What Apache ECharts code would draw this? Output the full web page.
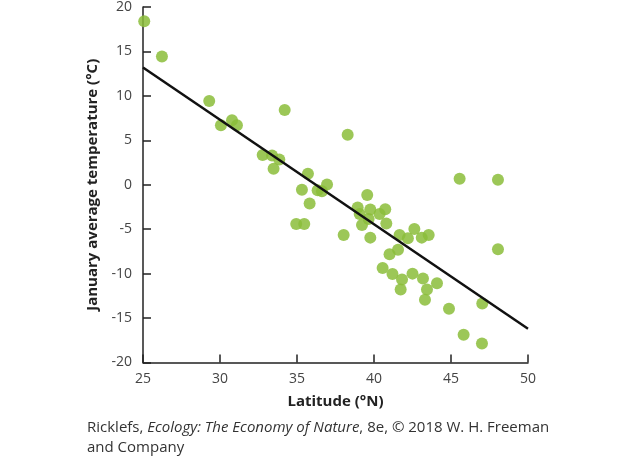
<!DOCTYPE html>
<html>
<head>
<meta charset="utf-8">
<script src="https://cdn.jsdelivr.net/npm/echarts@6/dist/echarts.min.js"></script>
<style>html,body{margin:0;padding:0;background:#fff}#c{width:629px;height:462px}</style>
</head>
<body>
<div id="c"></div>
<script>
const latitude = [25.08,26.23,29.3,30.06,30.78,31.1,34.2,32.77,33.38,33.85,33.48,35.71,
  38.29,35.32,36.95,36.34,36.62,35.82,34.95,35.47,38.03,39.56,
  38.94,39.76,40.73,39.07,40.36,39.65,39.22,40.8,39.76,
  41.66,42.2,42.62,43.1,43.55,
  41.56,41.01,40.56,41.2,42.5,41.82,43.18,44.09,41.73,43.44,43.31,44.87,47.03,45.82,47.01,
  45.56,48.05,48.05];
const temperature = [18.4,14.44,9.42,6.7,7.25,6.7,8.42,3.35,3.28,2.83,1.79,1.23,
  5.62,-0.56,0.04,-0.62,-0.74,-2.12,-4.42,-4.42,-5.65,-1.15,
  -2.57,-2.79,-2.75,-3.3,-3.3,-3.86,-4.53,-4.35,-5.95,
  -5.65,-6.03,-4.98,-5.95,-5.65,
  -7.32,-7.81,-9.37,-10.04,-10.0,-10.67,-10.56,-11.08,-11.79,-11.79,-12.95,-13.95,-13.35,-16.88,-17.86,
  0.67,0.56,-7.25];
const fitLatitude = [25, 50];
const fitTemperature = [13.2, -16.2];
const xTicks = [25, 30, 35, 40, 45, 50];
const yTicks = [-20, -15, -10, -5, 0, 5, 10, 15, 20];

const points = latitude.map((x, i) => [x, temperature[i]]);
const fit = fitLatitude.map((x, i) => [x, fitTemperature[i]]);

const chart = echarts.init(document.getElementById('c'), null, {renderer: 'canvas'});
const axisCol = '#222';
const lblFont = {fontFamily: 'Open Sans', fontSize: 14, color: '#444'};
chart.setOption({
  animation: false,
  backgroundColor: '#fff',
  grid: {left: 143, right: 101, top: 4, bottom: 99.5},
  xAxis: {
    type: 'value', min: xTicks[0], max: xTicks[xTicks.length-1], interval: 5,
    name: 'Latitude (°N)', nameLocation: 'middle', nameGap: 32,
    nameTextStyle: {fontFamily: 'Open Sans', fontWeight: 'bold', fontSize: 15, color: '#222'},
    axisLine: {onZero: false, lineStyle: {color: axisCol, width: 1.5}},
    axisTick: {inside: true, length: 8, lineStyle: {color: axisCol, width: 1.5}},
    axisLabel: Object.assign({margin: 10}, lblFont),
    splitLine: {show: false}
  },
  yAxis: {
    type: 'value', min: yTicks[0], max: yTicks[yTicks.length-1], interval: 5,
    name: 'January average temperature (°C)', nameLocation: 'middle', nameGap: 40, nameRotate: 90,
    nameTextStyle: {fontFamily: 'Open Sans', fontWeight: 'bold', fontSize: 15, color: '#222'},
    axisLine: {show: true, onZero: false, lineStyle: {color: axisCol, width: 1.5}},
    axisTick: {show: true, inside: true, length: 8, lineStyle: {color: axisCol, width: 1.5}},
    axisLabel: Object.assign({margin: 11}, lblFont),
    splitLine: {show: false}
  },
  series: [
    {type: 'scatter', data: points, symbolSize: 12,
     itemStyle: {color: '#8bbd3a', opacity: 0.85}, z: 2},
    {type: 'line', data: fit, showSymbol: false, symbol: 'none',
     lineStyle: {color: '#111', width: 2.5}, z: 3}
  ],
  graphic: [
    {type: 'text', left: 87, top: 420, style: {
      text: '{n|Ricklefs, }{i|Ecology: The Economy of Nature}{n|, 8e, © 2018 W. H. Freeman}\n{n|and Company}',
      rich: {
        n: {fontFamily: 'Open Sans', fontSize: 15, fill: '#333', lineHeight: 20},
        i: {fontFamily: 'Open Sans', fontStyle: 'italic', fontSize: 15, fill: '#333', lineHeight: 20}
      }
    }}
  ]
});
</script>
</body>
</html>
